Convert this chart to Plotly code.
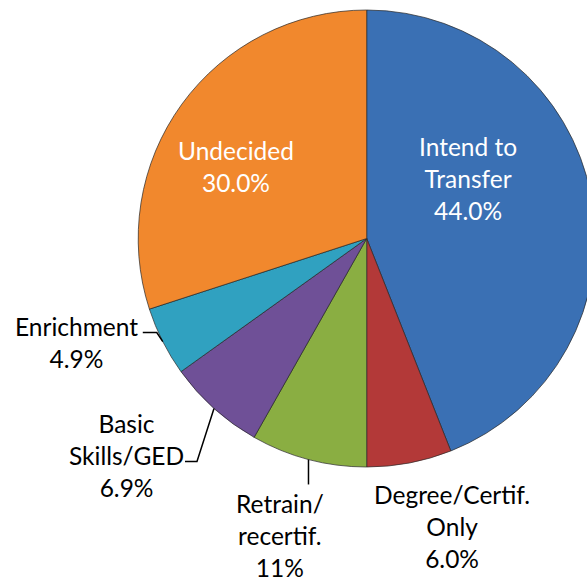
import math
import plotly.graph_objects as go

# ---- data ----
categories = ["Intend to Transfer", "Degree/Certif. Only", "Retrain/recertif.",
              "Basic Skills/GED", "Enrichment", "Undecided"]
values = [44.0, 6.0, 8.2, 6.9, 4.9, 30.0]
pct_labels = ["44.0%", "6.0%", "11%", "6.9%", "4.9%", "30.0%"]
label_names = ["Intend to<br>Transfer", "Degree/Certif.<br>Only", "Retrain/<br>recertif.",
               "Basic<br>Skills/GED", "Enrichment", "Undecided"]
colors = ["#3A70B4", "#B33938", "#8AAE42", "#6F5097", "#30A1C0", "#F1882D"]

# ---- layout geometry (pixels) ----
W, H = 600, 582
CX, CY, R = 366.7, 238.5, 228.5

def px(x):
    return x / W

def py(y):
    return 1 - y / H

fig = go.Figure(go.Pie(
    labels=categories, values=values, sort=False, direction="clockwise", rotation=0,
    marker=dict(colors=colors, line=dict(color="rgba(40,40,40,0.7)", width=1)),
    textinfo="none", hoverinfo="label+percent", showlegend=False,
    domain=dict(x=[px(CX - R), px(CX + R)], y=[py(CY + R), py(CY - R)]),
))

# label placement (pixel centres), text colour
label_pos = [(468, 178), (452, 526), (280, 535), (126, 455), (76, 342), (236, 166)]
inside = [True, False, False, False, False, True]

annotations = []
for name, pct, (lx, ly), ins in zip(label_names, pct_labels, label_pos, inside):
    annotations.append(dict(
        x=px(lx), y=py(ly), xref="paper", yref="paper", showarrow=False,
        text=f"{name}<br>{pct}", align="center", xanchor="center", yanchor="middle",
        font=dict(family="Lato", size=24.5, color="white" if ins else "black"),
    ))

# leader lines from slice edge at mid-angle
total = sum(values)
cum = 0
mids = []
for v in values:
    mids.append((cum + v / 2) / total * 2 * math.pi)
    cum += v

def edge(i):
    a = mids[i]
    return CX + R * math.sin(a), CY - R * math.cos(a)

leaders = {
    2: [(0, 25)],                 # Retrain: vertical down
    3: [(-17, 53), (-29, 53)],    # Basic Skills
    4: [(-6, -9), (-20, -9)],     # Enrichment
}
shapes = []
for i, offs in leaders.items():
    ex, ey = edge(i)
    pts = [(ex, ey)] + [(ex + dx, ey + dy) for dx, dy in offs]
    path = "M " + " L ".join(f"{px(x)},{py(y)}" for x, y in pts)
    shapes.append(dict(type="path", path=path, xref="paper", yref="paper",
                       line=dict(color="black", width=1.5)))

fig.update_layout(
    width=W, height=H, autosize=False,
    margin=dict(l=0, r=0, t=0, b=0),
    paper_bgcolor="white", plot_bgcolor="white",
    annotations=annotations, shapes=shapes,
)

fig.write_html("out.html", config={"displayModeBar": False},
               post_script="document.body.style.overflow='hidden';document.documentElement.style.overflow='hidden';document.body.style.margin='0';")
